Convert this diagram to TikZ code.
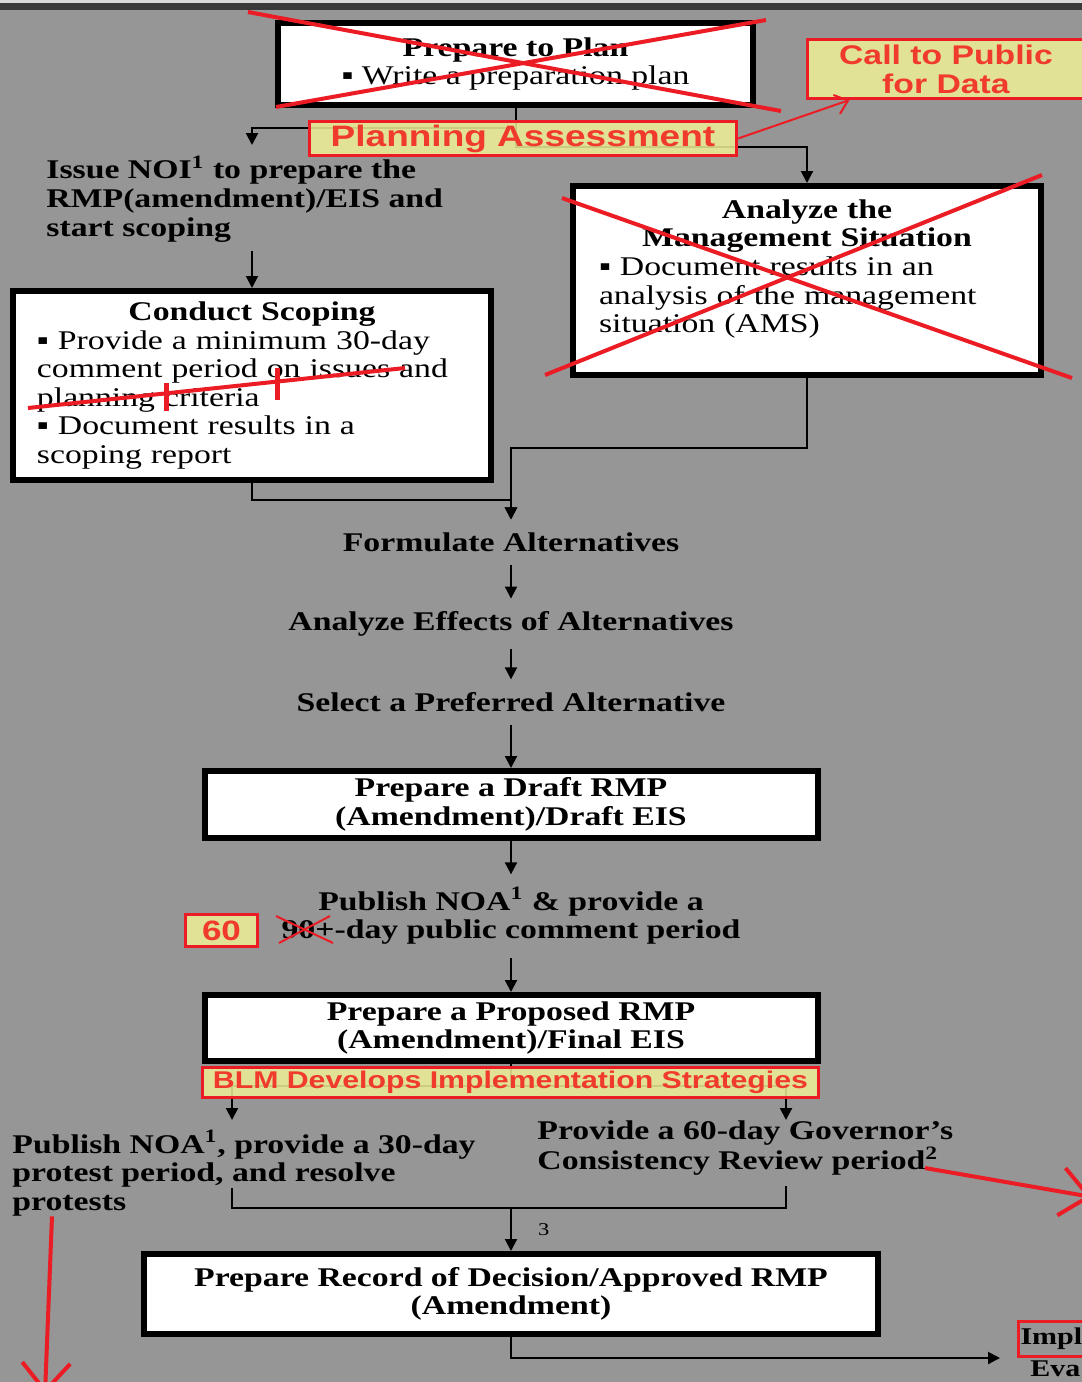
\documentclass[tikz,border=0pt]{standalone}
\usepackage{fontspec}
\usetikzlibrary{arrows.meta,positioning}
\newfontfamily\tnr{Liberation Serif}[FakeStretch=1.25]
\newfontfamily\annot{Liberation Sans}[FakeStretch=1.25]
\newcommand\flowfont{\tnr\bfseries\fontsize{13.5}{14.3}\selectfont}
\newcommand\notefont[1]{\annot\bfseries\fontsize{#1}{#1}\selectfont}
\definecolor{bggray}{RGB}{150,150,150}
\definecolor{topbar}{RGB}{58,58,58}
\definecolor{markred}{RGB}{236,28,36}
\definecolor{notered}{RGB}{240,58,44}
\definecolor{noteyellow}{RGB}{240,240,150}
\tikzset{
	stepbox/.style={draw=black, line width=3pt, fill=white, align=center, inner sep=0pt, font=\flowfont},
	flowtext/.style={align=center, inner sep=0pt, outer sep=6.5pt, font=\flowfont},
	sidetext/.style={align=left, anchor=west, inner sep=0pt, font=\flowfont},
	notebox/.style={draw=markred, line width=1.5pt, fill=noteyellow, fill opacity=0.85, text opacity=1, text=notered, inner sep=0pt, align=center},
	link/.style={draw=black, line width=1pt},
	arr/.style={link, -{Triangle[length=6pt,width=6pt]}},
	redx/.style={draw=markred, line width=2pt},
	redthin/.style={draw=markred, line width=1pt, -{Straight Barb[length=6pt,width=10pt]}},
	redarr/.style={draw=markred, line width=2pt, -{Straight Barb[length=14pt,width=24pt]}}
}
\begin{document}
\begin{tikzpicture}[x=0.5pt, y=-0.5pt]
	\useasboundingbox (0,0) rectangle (1082,1382);
	\clip (0,0) rectangle (1082,1382);
	\fill[bggray] (0,0) rectangle (1082,1382);
	\fill[topbar] (0,0) rectangle (1082,10);
	\fill[gray!30] (0,0) rectangle (1082,2.5);

	% top part
	\node[stepbox, minimum width=237.5pt, minimum height=41pt] (prep) at (515.5,64)
		{Prepare to Plan\\{\mdseries ▪ Write a preparation plan}};
	\node[sidetext] (noi) at (46,199)
		{Issue NOI\textsuperscript{1} to prepare the\\RMP(amendment)/EIS and\\start scoping};
	\coordinate (noiin) at (252,145);
	\node[stepbox, minimum width=239pt, minimum height=94.5pt, text width=215pt, align=left] (scope) at (252,385.5)
		{\makebox[\linewidth]{Conduct Scoping}\\ \mdseries ▪ Provide a minimum 30-day\\comment period on issues and\\planning criteria\\▪ Document results in a\\scoping report};
	\node[stepbox, minimum width=234pt, minimum height=94.5pt, text width=208pt, align=left] (ams) at (807,280.5)
		{\makebox[\linewidth]{Analyze the}\\ \makebox[\linewidth]{Management Situation}\\ \mdseries ▪ Document results in an\\analysis of the management\\situation (AMS)\\ \mbox{}};

	\draw[arr] (prep.south) -- ++(0,20) -| (noiin);
	\draw[arr] (prep.south) -- ++(0,39) -| (ams.north);
	\draw[arr] ([yshift=-4.5pt]noi.south -| scope.north) -- (scope.north);

	\node[notebox, minimum width=213.5pt, minimum height=17pt, font=\notefont{14.8}] (plass) at (523,138.5) {Planning Assessment};
	\node[notebox, minimum width=139pt, minimum height=29.5pt, font=\notefont{13.5}] (callpub) at (946,69) {Call to Public\\[1pt]for Data};
	\draw[redthin] (plass.east) -- ([xshift=22pt]callpub.south west);

	% struck out
	\draw[redx] (248,12) -- (781,111);
	\draw[redx] (276,107) -- (766,20);
	\draw[redx] (562,198) -- (1072,378);
	\draw[redx] (545,375) -- (1042,175);
	\draw[redx] (28,408) -- (405,368);
	\draw[redx, line width=2.5pt] (166,383) -- (166,411);
	\draw[redx, line width=2.5pt] (277,368) -- (277,400);

	% alternatives
	\node[flowtext] (formalt) at (511,542) {Formulate Alternatives};
	\node[flowtext] (effects) at (511,624) {Analyze Effects of Alternatives};
	\node[flowtext] (prefalt) at (511,702) {Select a Preferred Alternative};
	\draw[arr] (scope.south) -- ++(0,17) -| (formalt.north);
	\draw[arr] (ams.south) -- ++(0,70) -| (formalt.north);
	\draw[arr] (formalt) -- (effects);
	\draw[arr] (effects) -- (prefalt);

	\node[stepbox, minimum width=306.5pt, minimum height=33.5pt] (draft) at (511,804.5)
		{Prepare a Draft RMP\\(Amendment)/Draft EIS};
	\node[flowtext] (noadraft) at (511,916)
		{Publish NOA\textsuperscript{1} \& provide a\\90+-day public comment period};
	\node[stepbox, minimum width=306.5pt, minimum height=33pt] (proposed) at (511,1028)
		{Prepare a Proposed RMP\\(Amendment)/Final EIS};
	\draw[arr] (prefalt) -- (draft);
	\draw[arr] (draft) -- (noadraft);
	\draw[arr] (noadraft) -- (proposed);

	\node[notebox, minimum width=36pt, minimum height=16pt, font=\notefont{14}] (sixty) at (221.5,930.5) {60};
	\draw[redx, line width=1pt] (276,916) -- (333,943);
	\draw[redx, line width=1pt] (279,943) -- (330,916);

	% protest and governor review
	\coordinate (protestin) at (232,1120);
	\coordinate (govin) at (786,1120);
	\draw[arr] (proposed.south) -- ++(0,22) -| (protestin);
	\draw[arr] (proposed.south) -- ++(0,22) -| (govin);
	\node[notebox, minimum width=308pt, minimum height=15pt, font=\notefont{12.1}] (blm) at (510.5,1082.5) {BLM Develops Implementation Strategies};

	\node[sidetext] (protest) at (12,1173)
		{Publish NOA\textsuperscript{1}, provide a 30-day\\protest period, and resolve\\protests};
	\node[sidetext] (governor) at (537,1148)
		{Provide a 60-day Governor’s\\Consistency Review period\textsuperscript{2}};
	\coordinate (protestout) at (232,1188);
	\coordinate (govout) at (786,1186);
	\draw[link] (protestout) -- ++(0,20) -| (govout);

	\node[stepbox, minimum width=367pt, minimum height=40pt] (rod) at (511,1294)
		{Prepare Record of Decision/Approved RMP\\(Amendment)};
	\draw[arr] ([yshift=21.5pt]rod.north) -- (rod.north)
		node[midway, right=13pt, inner sep=0pt, font=\tnr\fontsize{9}{10}\selectfont] {3};

	\node[anchor=west, draw=markred, line width=1.5pt, minimum width=60pt, text width=58pt, align=left, inner xsep=1pt, inner ysep=3.5pt, font=\tnr\bfseries\fontsize{12}{13}\selectfont] (impl) at (1017,1339) {Impl};
	\node[anchor=north west, inner sep=0pt, font=\tnr\bfseries\fontsize{12}{13}\selectfont] (evaltxt) at ([xshift=6.5pt, yshift=-1pt]impl.south west) {Eva};
	\coordinate (implin) at (1000,1358);
	\draw[arr] (rod.south) |- (implin);

	% red marks at the bottom
	\coordinate (govmark) at (925,1168);
	\coordinate (govoff) at (1092,1197);
	\coordinate (protestoff) at (45,1394);
	\draw[redarr] (govmark) -- (govoff);
	\draw[redarr] ([xshift=20pt]protest.south west) -- (protestoff);
\end{tikzpicture}
\end{document}
